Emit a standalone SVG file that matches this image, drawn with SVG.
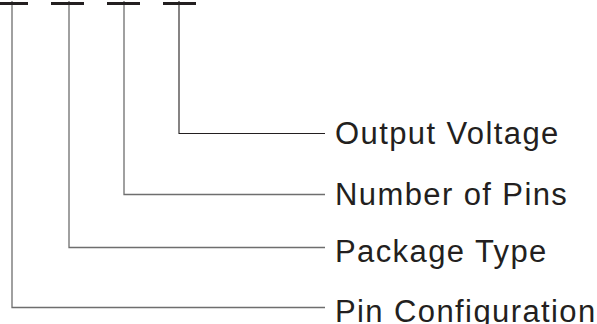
<svg xmlns="http://www.w3.org/2000/svg" width="597" height="324" viewBox="0 0 597 324">
<style>
.bar{fill:#231f20}
.ln{fill:none;stroke:#6e6e6e;stroke-width:1.3}
.dk{stroke:#231f20;stroke-width:1.1}
.lbl{font-family:"Liberation Sans",Arial,sans-serif;font-size:31px;letter-spacing:1.4px;fill:#231f20}
</style>
<rect width="597" height="324" fill="#fff"/>
<g id="connectors">
<polyline class="ln" points="12,1 12,307.5 325,307.5"/>
<polyline class="ln" points="69,1 69,247.5 325,247.5"/>
<polyline class="ln" points="124,1 124,194.5 325,194.5"/>
<polyline class="ln dk" points="179,1 179,133.5 325,133.5"/>
</g>
<g id="segments">
<rect class="bar" x="0" y="2" width="28" height="3"/>
<rect class="bar" x="51" y="2" width="33" height="3"/>
<rect class="bar" x="107" y="2" width="33" height="3"/>
<rect class="bar" x="163" y="2" width="33" height="3"/>
</g>
<g id="output-voltage"><text class="lbl" x="335" y="144">Output Voltage</text></g>
<g id="number-of-pins"><text class="lbl" x="335" y="205">Number of Pins</text></g>
<g id="package-type"><text class="lbl" x="335" y="262">Package Type</text></g>
<g id="pin-configuration"><text class="lbl" x="335" y="321.5">Pin Configuration</text></g>
</svg>
